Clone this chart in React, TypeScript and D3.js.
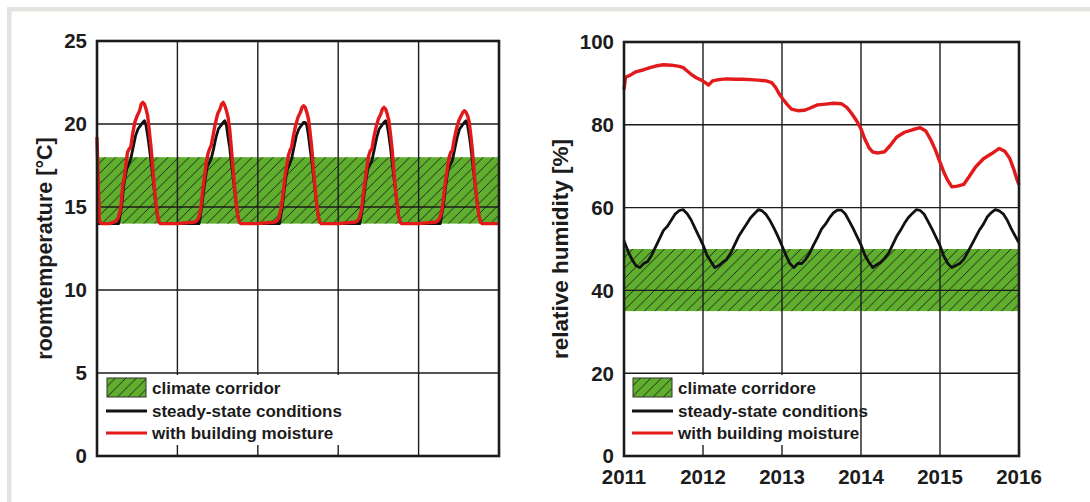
import React from 'react';
import * as d3 from 'd3';

// x axis: years since start of 2011
const years = [2011, 2012, 2013, 2014, 2015, 2016];
const tempTicks = [0, 5, 10, 15, 20, 25];
const rhTicks = [0, 20, 40, 60, 80, 100];
const tempCorridor = [14, 18];
const rhCorridor = [35, 50];

// room temperature, with building moisture [t, °C]
const tempRed: [number, number][] = [
  [0, 19.2], [0.015, 16.5], [0.03, 14.2], [0.05, 14], [0.15, 14], [0.22, 14.1], [0.26, 14.3],
  [0.28, 14.6], [0.3, 15.2], [0.32, 16.3], [0.34, 16.8], [0.36, 17.6], [0.38, 18.3], [0.4, 18.5], [0.42, 18.6],
  [0.44, 19.3], [0.47, 20.1], [0.5, 20.5], [0.53, 20.8], [0.55, 21.2], [0.57, 21.3], [0.59, 21.2], [0.61, 20.9],
  [0.63, 20.5], [0.65, 19.6], [0.67, 18.7], [0.69, 17.5], [0.71, 16.4], [0.73, 15.4], [0.75, 14.6], [0.77, 14.1], [0.79, 14],
  [1.0, 14], [1.22, 14.1], [1.26, 14.3],
  [1.28, 14.6], [1.3, 15.3], [1.32, 16.2], [1.34, 16.9], [1.36, 17.7], [1.38, 18.2], [1.4, 18.5], [1.42, 18.7],
  [1.44, 19.2], [1.47, 20.0], [1.5, 20.6], [1.53, 20.9], [1.55, 21.2], [1.57, 21.3], [1.59, 21.1], [1.61, 20.8],
  [1.63, 20.4], [1.65, 19.7], [1.67, 18.6], [1.69, 17.4], [1.71, 16.3], [1.73, 15.3], [1.75, 14.5], [1.77, 14.1], [1.79, 14],
  [2.0, 14], [2.22, 14.1], [2.26, 14.3],
  [2.28, 14.7], [2.3, 15.2], [2.32, 16.1], [2.34, 16.9], [2.36, 17.5], [2.38, 18.1], [2.4, 18.4], [2.42, 18.6],
  [2.44, 19.2], [2.47, 19.9], [2.5, 20.4], [2.53, 20.7], [2.55, 21.0], [2.57, 21.1], [2.59, 21.0], [2.61, 20.7],
  [2.63, 20.3], [2.65, 19.5], [2.67, 18.6], [2.69, 17.4], [2.71, 16.3], [2.73, 15.3], [2.75, 14.5], [2.77, 14.1], [2.79, 14],
  [3.0, 14], [3.22, 14.1], [3.26, 14.3],
  [3.28, 14.6], [3.3, 15.2], [3.32, 16.1], [3.34, 16.8], [3.36, 17.5], [3.38, 18.1], [3.4, 18.4], [3.42, 18.5],
  [3.44, 19.1], [3.47, 19.8], [3.5, 20.3], [3.53, 20.6], [3.55, 20.9], [3.57, 21.0], [3.59, 20.9], [3.61, 20.6],
  [3.63, 20.2], [3.65, 19.4], [3.67, 18.5], [3.69, 17.3], [3.71, 16.2], [3.73, 15.3], [3.75, 14.5], [3.77, 14.1], [3.79, 14],
  [4.0, 14], [4.22, 14.1], [4.26, 14.3],
  [4.28, 14.6], [4.3, 15.1], [4.32, 16.0], [4.34, 16.7], [4.36, 17.4], [4.38, 18.0], [4.4, 18.3], [4.42, 18.4],
  [4.44, 19.0], [4.47, 19.7], [4.5, 20.2], [4.53, 20.5], [4.55, 20.7], [4.57, 20.8], [4.59, 20.7], [4.61, 20.5],
  [4.63, 20.1], [4.65, 19.3], [4.67, 18.4], [4.69, 17.2], [4.71, 16.1], [4.73, 15.2], [4.75, 14.5], [4.77, 14.1], [4.79, 14],
  [5.0, 14],
];

// room temperature, steady-state [t, °C]
const tempBlack: [number, number][] = [
  [0, 14], [0.27, 14], [0.29, 14.6], [0.31, 15.2], [0.33, 16.2], [0.35, 16.8], [0.37, 17.3], [0.39, 17.5], [0.42, 17.9],
  [0.45, 18.6], [0.48, 19.3], [0.51, 19.7], [0.54, 19.9], [0.57, 20.1], [0.59, 20.2], [0.61, 19.9], [0.63, 19.3],
  [0.65, 18.6], [0.67, 17.8], [0.69, 17.0], [0.71, 16.1], [0.73, 15.2], [0.75, 14.5], [0.77, 14.1], [0.79, 14],
  [1.27, 14], [1.29, 14.6], [1.31, 15.3], [1.33, 16.1], [1.35, 16.8], [1.37, 17.4], [1.39, 17.6], [1.42, 17.9],
  [1.45, 18.5], [1.48, 19.2], [1.51, 19.7], [1.54, 19.9], [1.57, 20.1], [1.59, 20.2], [1.61, 19.9], [1.63, 19.2],
  [1.65, 18.6], [1.67, 17.7], [1.69, 16.9], [1.71, 16.1], [1.73, 15.2], [1.75, 14.5], [1.77, 14.1], [1.79, 14],
  [2.27, 14], [2.29, 14.6], [2.31, 15.2], [2.33, 16.1], [2.35, 16.8], [2.37, 17.3], [2.39, 17.5], [2.42, 17.9],
  [2.45, 18.6], [2.48, 19.3], [2.51, 19.7], [2.54, 19.9], [2.57, 20.1], [2.59, 20.1], [2.61, 19.9], [2.63, 19.3],
  [2.65, 18.5], [2.67, 17.8], [2.69, 17.0], [2.71, 16.1], [2.73, 15.2], [2.75, 14.5], [2.77, 14.1], [2.79, 14],
  [3.27, 14], [3.29, 14.6], [3.31, 15.2], [3.33, 16.1], [3.35, 16.8], [3.37, 17.3], [3.39, 17.5], [3.42, 17.8],
  [3.45, 18.5], [3.48, 19.2], [3.51, 19.7], [3.54, 19.9], [3.57, 20.1], [3.59, 20.2], [3.61, 19.9], [3.63, 19.3],
  [3.65, 18.6], [3.67, 17.7], [3.69, 16.9], [3.71, 16.1], [3.73, 15.2], [3.75, 14.5], [3.77, 14.1], [3.79, 14],
  [4.27, 14], [4.29, 14.6], [4.31, 15.1], [4.33, 16.0], [4.35, 16.7], [4.37, 17.3], [4.39, 17.5], [4.42, 17.8],
  [4.45, 18.5], [4.48, 19.2], [4.51, 19.7], [4.54, 19.9], [4.57, 20.1], [4.59, 20.2], [4.61, 19.9], [4.63, 19.3],
  [4.65, 18.6], [4.67, 17.7], [4.69, 16.9], [4.71, 16.0], [4.73, 15.2], [4.75, 14.5], [4.77, 14.1], [4.79, 14],
  [5.0, 14],
];

// relative humidity, steady-state, one value every 0.05 year [%]
const rhBlack = [
  52, 49.5, 47.5, 46, 45.5, 46.5, 47, 48.5, 50.5, 52.5, 54.5, 55.5, 57, 58.5, 59.3, 59.5, 58.5, 57, 55, 53,
  51, 48.5, 47, 45.5, 46, 46.8, 47.5, 49, 51, 53, 54.5, 56, 57.5, 58.5, 59.5, 59.2, 58.3, 56.8, 55, 53,
  50.8, 48.5, 46.5, 45.5, 46.5, 46.5, 47.5, 49, 51, 52.8, 54.8, 56, 57.5, 58.7, 59.4, 59.4, 58.5, 56.8, 55, 53,
  51, 48.5, 46.8, 45.5, 46.2, 46.8, 47.8, 49, 51, 53, 54.5, 56.2, 57.6, 58.6, 59.5, 59.3, 58.4, 56.6, 54.8, 52.8,
  50.8, 48.2, 46.5, 45.5, 46, 46.5, 47.5, 49.2, 51, 52.8, 54.6, 56, 57.8, 58.8, 59.5, 59.2, 58.5, 57, 55, 53.2,
  51.5,
];

// relative humidity, with building moisture [t, %]
const rhRed: [number, number][] = [
  [0, 88.5], [0.02, 91.5], [0.08, 92], [0.15, 92.8], [0.25, 93.3], [0.33, 93.8], [0.4, 94.2], [0.5, 94.5], [0.6, 94.4],
  [0.7, 94.1], [0.75, 93.8], [0.8, 93], [0.85, 92.2], [0.92, 91.3], [0.98, 90.8], [1.03, 90.2], [1.07, 89.6], [1.12, 90.6],
  [1.2, 90.9], [1.3, 91.1], [1.4, 91.0], [1.5, 91.0], [1.6, 90.9], [1.7, 90.8], [1.8, 90.6], [1.87, 90.2], [1.92, 89],
  [1.97, 87.3], [2.02, 86], [2.07, 84.8], [2.12, 83.8], [2.2, 83.4], [2.28, 83.5], [2.35, 84], [2.45, 84.8], [2.55, 85],
  [2.65, 85.2], [2.75, 85.1], [2.82, 84.2], [2.88, 82.8], [2.95, 80.8], [3.0, 79], [3.05, 76.5], [3.1, 74.5], [3.15, 73.4],
  [3.22, 73.2], [3.3, 73.5], [3.37, 75], [3.45, 77], [3.55, 78.2], [3.65, 78.8], [3.75, 79.3], [3.82, 78.5], [3.88, 76.5],
  [3.94, 74], [4.0, 71], [4.05, 68.5], [4.1, 66.5], [4.15, 65], [4.22, 65.2], [4.3, 65.6], [4.37, 67.5], [4.45, 69.8],
  [4.55, 71.8], [4.65, 73], [4.75, 74.3], [4.82, 73.6], [4.88, 72], [4.93, 69.5], [4.97, 67], [5.0, 65.5],
];

const GREEN = '#5fae2e';
const INK = '#1c1c1c';
const FONT = 'Liberation Sans, Arial, Helvetica, sans-serif';

type PanelProps = {
  x0: number; x1: number; y0: number; y1: number;
  ticks: number[]; corridor: number[];
  red: [number, number][]; black: [number, number][];
  lineW: number;
  title: string; titleX: number; titleSize: number;
  yearLabels: boolean;
  legend: { y: number; w: number; boxX: number; label: string };
};

const Panel = (p: PanelProps) => {
  const x = d3.scaleLinear().domain([0, 5]).range([p.x0, p.x1]);
  const y = d3.scaleLinear().domain([0, p.ticks[p.ticks.length - 1]]).range([p.y1, p.y0]);
  const line = d3.line<[number, number]>().x(d => x(d[0])).y(d => y(d[1]));
  const gx = d3.range(6);
  const lg = p.legend;
  const cy0 = y(p.corridor[1]);
  const ch = y(p.corridor[0]) - cy0;
  return (
    <g>
      <rect x={p.x0} y={cy0} width={p.x1 - p.x0} height={ch} fill={GREEN} />
      <rect x={p.x0} y={cy0} width={p.x1 - p.x0} height={ch} fill="url(#hatch)" />
      {p.ticks.map(t => (
        <line key={'h' + t} x1={p.x0} x2={p.x1} y1={y(t)} y2={y(t)} stroke={INK} strokeWidth={1.4} />
      ))}
      {gx.map(t => (
        <line key={'v' + t} x1={x(t)} x2={x(t)} y1={p.y0} y2={p.y1} stroke={INK} strokeWidth={1.4} />
      ))}
      <path d={line(p.black) || ''} fill="none" stroke="#111" strokeWidth={p.lineW} strokeLinejoin="round" />
      <path d={line(p.red) || ''} fill="none" stroke="#e31a1c" strokeWidth={p.lineW + 0.6} strokeLinejoin="round" />
      {/* legend */}
      <rect x={p.x0 + 2} y={lg.y} width={lg.w} height={70} fill="#fff" />
      <rect x={lg.boxX} y={lg.y + 3} width={39} height={19} fill={GREEN} />
      <rect x={lg.boxX} y={lg.y + 3} width={39} height={19} fill="url(#hatch)" stroke="#333" strokeWidth={1} />
      <line x1={lg.boxX - 1} x2={lg.boxX + 40} y1={lg.y + 36} y2={lg.y + 36} stroke="#111" strokeWidth={3} />
      <line x1={lg.boxX - 1} x2={lg.boxX + 40} y1={lg.y + 58} y2={lg.y + 58} stroke="#e31a1c" strokeWidth={3} />
      <g fontFamily={FONT} fontWeight="bold" fontSize={17} fill={INK}>
        <text x={lg.boxX + 45} y={lg.y + 13} dy="0.36em">{lg.label}</text>
        <text x={lg.boxX + 45} y={lg.y + 36} dy="0.36em">steady-state conditions</text>
        <text x={lg.boxX + 45} y={lg.y + 58} dy="0.36em">with building moisture</text>
      </g>
      <rect x={p.x0} y={p.y0} width={p.x1 - p.x0} height={p.y1 - p.y0} fill="none" stroke={INK} strokeWidth={2.6} />
      <g fontFamily={FONT} fontWeight="bold" fontSize={20.5} fill={INK}>
        {p.ticks.map(t => (
          <text key={'t' + t} x={p.x0 - 10} y={y(t)} dy="0.36em" textAnchor="end">{t}</text>
        ))}
        {p.yearLabels && years.map((yr, i) => (
          <text key={'y' + yr} x={x(i)} y={p.y1 + 21} dy="0.36em" textAnchor="middle">{yr}</text>
        ))}
        <text transform={`translate(${p.titleX},${(p.y0 + p.y1) / 2}) rotate(-90)`} textAnchor="middle" dy="0.36em" fontSize={p.titleSize}>
          {p.title}
        </text>
      </g>
    </g>
  );
};

const App = () => {
  const rhBlackPts: [number, number][] = rhBlack.map((v, i) => [i * 0.05, v]);
  return (
    <svg width={1090} height={502} style={{ position: 'absolute', left: 0, top: 0, background: '#fff' }}>
      <defs>
        <pattern id="hatch" patternUnits="userSpaceOnUse" width={10.5} height={10.5}>
          <path d="M-1,1 l2,-2 M0,10.5 l10.5,-10.5 M9.5,11.5 l2,-2" stroke="#1a1a1a" strokeWidth={0.9} />
        </pattern>
      </defs>
      <rect x={7} y={7} width={1083} height={4.5} fill="#e3e3df" />
      <rect x={7} y={7} width={4.5} height={495} fill="#e3e3df" />
      <Panel
        x0={97} x1={499} y0={41} y1={456}
        ticks={tempTicks} corridor={tempCorridor}
        red={tempRed} black={tempBlack} lineW={2.8}
        title="roomtemperature [°C]" titleX={44} titleSize={21.5}
        yearLabels={false}
        legend={{ y: 375, w: 244, boxX: 107, label: 'climate corridor' }}
      />
      <Panel
        x0={624} x1={1019} y0={42} y1={456}
        ticks={rhTicks} corridor={rhCorridor}
        red={rhRed} black={rhBlackPts} lineW={2.8}
        title="relative humidity [%]" titleX={560} titleSize={22.5}
        yearLabels={true}
        legend={{ y: 375, w: 232, boxX: 633, label: 'climate corridore' }}
      />
    </svg>
  );
};

export default App;
